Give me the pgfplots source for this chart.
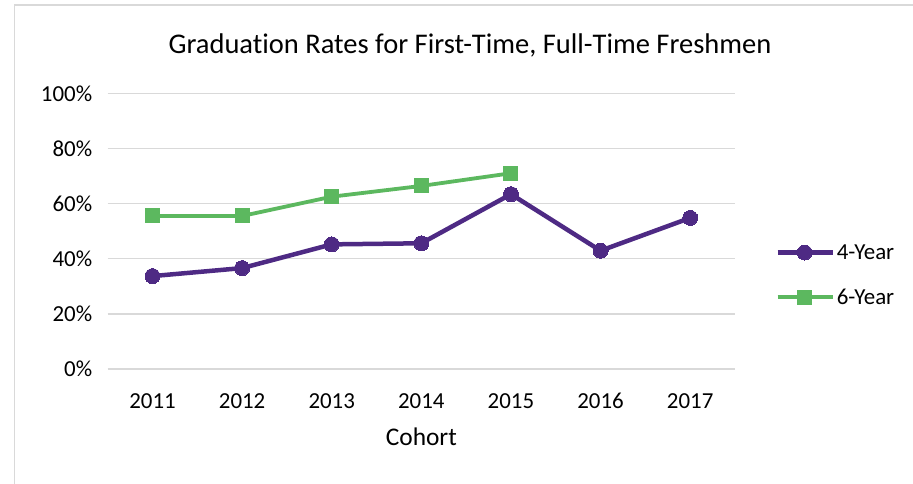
\documentclass[border=0pt]{standalone}
\usepackage{pgfplots}
\pgfplotsset{compat=1.18}
\usepackage{fontspec}
\setmainfont{Carlito}[RawFeature={-liga;-dlig;-calt;-clig}]
\definecolor{purp}{HTML}{4E2A84}
\definecolor{grn}{HTML}{5CB85F}
\definecolor{gridc}{HTML}{D9D9D9}
\begin{document}
\begin{tikzpicture}
\path[use as bounding box] (0bp,0bp) rectangle (913bp,484bp);
\fill[white] (0bp,0bp) rectangle (913bp,484bp);
\draw[gridc, line width=1.5bp] (14.5bp,0bp) -- (14.5bp,479bp) -- (913bp,479bp);
\node[font=\fontsize{28.6}{34}\selectfont] at (470bp,439bp) {Graduation Rates for First-Time, Full-Time Freshmen};
\begin{axis}[
  at={(107.7bp,115bp)}, anchor=south west,
  scale only axis, width=627.3bp, height=275.7bp,
  xmin=-0.5, xmax=6.5, ymin=0, ymax=100,
  xtick={0,...,6}, xticklabels={2011,2012,2013,2014,2015,2016,2017},
  ytick={0,20,...,100}, yticklabel={\pgfmathprintnumber{\tick}\%},
  /pgf/number format/assume math mode=true,
  axis line style={draw=none}, major tick length=0pt,
  xmajorgrids=false, ymajorgrids=true,
  major grid style={draw=gridc, line width=1.3bp},
  tick label style={font=\fontsize{23}{27}\selectfont},
  yticklabel style={xshift=-12bp},
  xticklabel style={yshift=-21bp},
  xlabel={Cohort}, xlabel style={font=\fontsize{25.5}{30}\selectfont, yshift=-12bp},
  clip=false,
  legend style={at={(1.064,0.341)}, anchor=west, draw=none, fill=none,
    font=\fontsize{23}{27}\selectfont, row sep=24bp, inner sep=0pt,
    /tikz/every even column/.append style={column sep=3bp}},
  legend cell align=left,
  legend image code/.code={\draw[#1, mark repeat=2, mark phase=2] plot coordinates {(0bp,0bp) (27bp,0bp) (55bp,0bp)};},
]
\addplot[purp, line width=4.5bp, mark=*, mark size=7.5bp, mark options={line width=0pt}] coordinates {
 (0,33.7) (1,36.6) (2,45.2) (3,45.6) (4,63.4) (5,42.9) (6,54.8)};
\addlegendentry{4-Year}
\addplot[grn, line width=3.8bp, mark=square*, mark size=7bp, mark options={line width=0pt}] coordinates {
 (0,55.5) (1,55.5) (2,62.5) (3,66.4) (4,71.0)};
\addlegendentry{6-Year}
\end{axis}
\end{tikzpicture}
\end{document}
